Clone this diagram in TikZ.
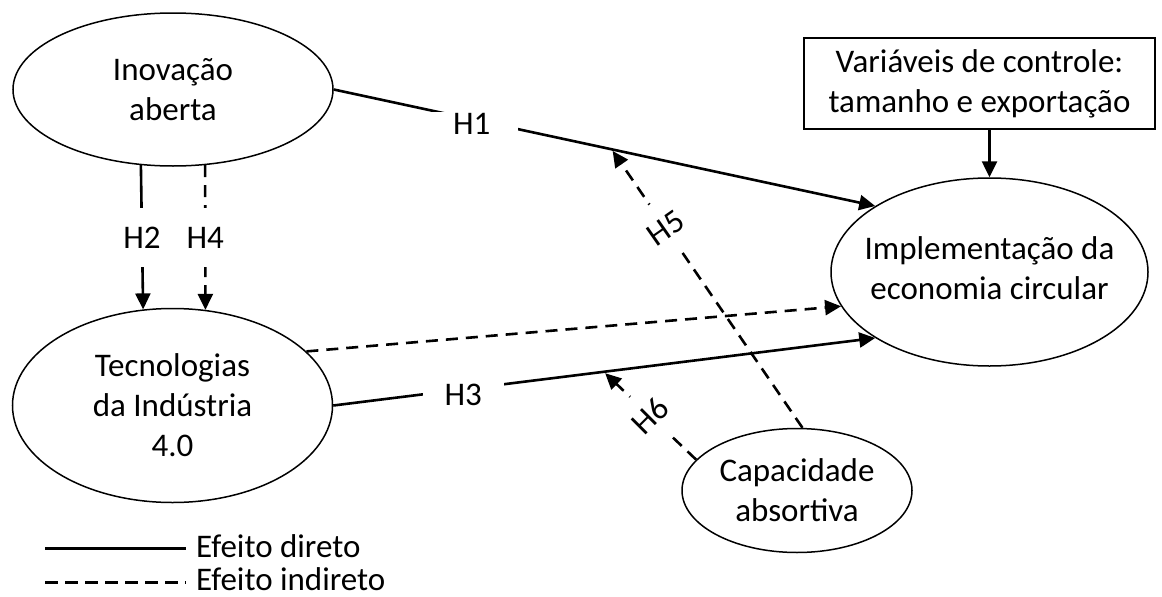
\documentclass[tikz,border=0pt]{standalone}
\usepackage{fontspec}
\setmainfont{Carlito}
\usetikzlibrary{shapes.geometric,arrows.meta}
\begin{document}
\begin{tikzpicture}[x=1pt,y=-1pt,
  every node/.style={font=\fontsize{33}{40}\selectfont},
  every label/.style={align=center, inner sep=0pt},
  var/.style={draw, ellipse, line width=1.5pt, inner sep=0pt},
  conn/.style={line width=2.6pt, -{Triangle[length=16pt,width=15pt]}},
  dir/.style={conn},
  ind/.style={conn, dash pattern=on 12pt off 8pt},
  hlab/.style={fill=white, inner sep=2pt}
]
\useasboundingbox (0,0) rectangle (1162,597);

\node[var, minimum width=320pt, minimum height=153pt, label={center:Inovação\\aberta}] (ino) at (173,89.5) {};
\node[var, minimum width=320pt, minimum height=194pt, label={center:Tecnologias\\da Indústria\\4.0}] (tec) at (172.5,405.5) {};
\node[var, minimum width=317pt, minimum height=188pt, label={[yshift=4pt]center:Implementação da\\economia circular}] (impl) at (989.5,272) {};
\node[var, minimum width=230pt, minimum height=124pt, label={center:Capacidade\\absortiva}] (cap) at (797,490.5) {};
\node[draw, line width=1.5pt, minimum width=351pt, minimum height=91pt, align=center, inner sep=0pt] (box) at (979.5,83.5) {Variáveis de controle:\\tamanho e exportação};

% direct and indirect effects
\draw[dir] (ino.east) -- node[hlab, pos=0.255, inner xsep=28pt, yshift=-5pt] {H1} coordinate[pos=0.513] (h5tip) (impl.150.4);
\draw[dir] (tec.east) -- node[hlab, pos=0.24, inner xsep=22pt, yshift=-6pt] {H3} coordinate[pos=0.499] (h6tip) (impl.210);
\draw[ind] (tec.22) -- (impl.193);
\draw[dir] (ino.247.6) -- node[hlab, inner ysep=19pt] {H2} (tec.107.8);
\draw[ind] (ino.293.1) -- node[hlab, inner ysep=19pt] {H4} (tec.71.1);
\draw[ind, shorten >=2pt] (cap.85) -- node[hlab, pos=0.716, rotate=35, inner ysep=18pt, inner xsep=4pt] {H5} (h5tip);
\draw[ind, shorten >=2pt] (cap.163.8) -- node[hlab, pos=0.5, rotate=45, inner ysep=16pt, inner xsep=4pt] {H6} (h6tip);
\draw[dir] (box.south -| impl.north) -- (impl.north);

% legend
\coordinate (l1) at (45,548);
\coordinate (l2) at (45,582);
\node[anchor=west, inner xsep=10pt, inner ysep=0pt, yshift=2pt] (lt1) at (186,548) {Efeito direto};
\node[anchor=west, inner xsep=10pt, inner ysep=0pt, yshift=3pt] (lt2) at (186,582) {Efeito indireto};
\draw[line width=3pt] (l1) -- (l1 -| lt1.west);
\draw[line width=3pt, dash pattern=on 13pt off 7pt] (l2) -- (l2 -| lt2.west);
\end{tikzpicture}
\end{document}
